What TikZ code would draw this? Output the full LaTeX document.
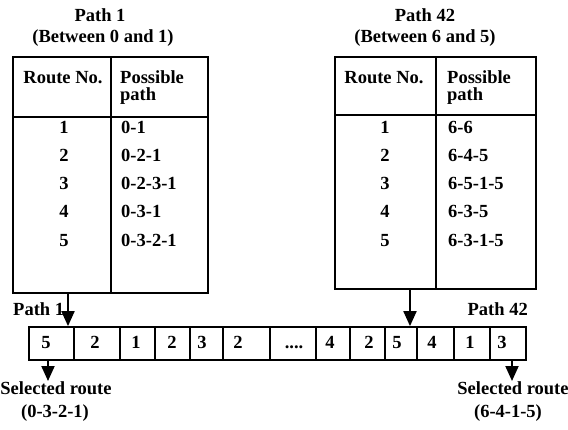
\documentclass[tikz,border=0pt]{standalone}
\usepackage{fontspec}
\setmainfont{Liberation Serif}
\usetikzlibrary{arrows.meta}
\newcommand\fourdotsx{....}
\tikzset{
  txt/.style={font=\fontsize{18.5}{22}\selectfont\bfseries, inner sep=0pt},
  tbl/.style={draw, line width=2pt, inner sep=0pt},
  rule/.style={line width=2pt},
  cellbox/.style={draw, line width=1.8pt, inner sep=0pt, minimum height=33pt},
  arr/.style={line width=2pt, -{Triangle[width=13pt,length=15pt]}}
}
\begin{document}
\begin{tikzpicture}[x=1pt,y=-1pt]
\useasboundingbox (0,0) rectangle (568,429);
% ---- left table ----
\node[txt, anchor=base] (hA1) at (100,21) {Path 1};
\node[txt, anchor=base] (hA2) at (103,42.5) {(Between 0 and 1)};
\node[tbl, minimum width=195pt, minimum height=236pt] (tblA) at (110.5,175) {};
\draw[rule] (111,57) -- (111,293);
\draw[rule] (13,117) -- (208,117);
\node[txt, anchor=base] (rA) at (63,83) {Route No.};
\node[txt, anchor=base west] (pA1) at (120,83) {Possible};
\node[txt, anchor=base west] (pA2) at (120,100) {path};
\foreach \n/\p [count=\k from 0] in {1/0-1, 2/0-2-1, 3/0-2-3-1, 4/0-3-1, 5/0-3-2-1}{
  \node[txt, anchor=base] (nA\k) at (64,133+28.25*\k) {\n};
  \node[txt, anchor=base west] (qA\k) at (121,133+28.25*\k) {\p};
}
% ---- right table ----
\node[txt, anchor=base] (hB1) at (425,21) {Path 42};
\node[txt, anchor=base] (hB2) at (425,42.5) {(Between 6 and 5)};
\node[tbl, minimum width=201pt, minimum height=232pt] (tblB) at (435.5,173) {};
\draw[rule] (436,57) -- (436,289);
\draw[rule] (335,115) -- (536,115);
\node[txt, anchor=base] (rB) at (384,83) {Route No.};
\node[txt, anchor=base west] (pB1) at (447,83) {Possible};
\node[txt, anchor=base west] (pB2) at (447,100) {path};
\foreach \n/\p [count=\k from 0] in {1/6-6, 2/6-4-5, 3/6-5-1-5, 4/6-3-5, 5/6-3-1-5}{
  \node[txt, anchor=base] (nB\k) at (385,133+28.25*\k) {\n};
  \node[txt, anchor=base west] (qB\k) at (448,133+28.25*\k) {\p};
}
% ---- array ----
\foreach \l/\r/\t/\tx [count=\i] in {29/74/5/46, 74/120/2/95, 120/155/1/136, 155/190/2/172, 190/223/3/202, 223/270/2/238, 270/316/\fourdotsx/294, 316/350/4/330, 350/385/2/369, 385/417/5/397, 417/454/4/432, 454/490/1/470, 490/526/3/502}{
  \pgfmathsetmacro\w{\r-\l}
  \pgfmathsetmacro\m{(\l+\r)/2}
  \node[cellbox, minimum width=\w pt] (c\i) at (\m,343.5) {};
  \node[txt, anchor=base] (t\i) at (\tx,348) {\t};
}
% ---- arrows ----
\coordinate (pa) at (68,293);
\coordinate (pb) at (410,289);
\draw[arr] (pa) -- (pa |- c1.north);
\draw[arr] (pb) -- (pb |- c10.north);
\coordinate (sa) at (48,381);
\coordinate (sb) at (512,381);
\draw[arr] (sa |- c1.south) -- (sa);
\draw[arr] (sb |- c13.south) -- (sb);
\node[txt, anchor=base west] (lA) at (13,315) {Path 1};
\node[txt, anchor=base east] (lB) at (528,315) {Path 42};
\node[txt, anchor=base] (sA1) at (56,394) {Selected route};
\node[txt, anchor=base] (sA2) at (55,417) {(0-3-2-1)};
\node[txt, anchor=base] (sB1) at (513,394) {Selected route};
\node[txt, anchor=base] (sB2) at (508,417) {(6-4-1-5)};
\end{tikzpicture}
\end{document}
